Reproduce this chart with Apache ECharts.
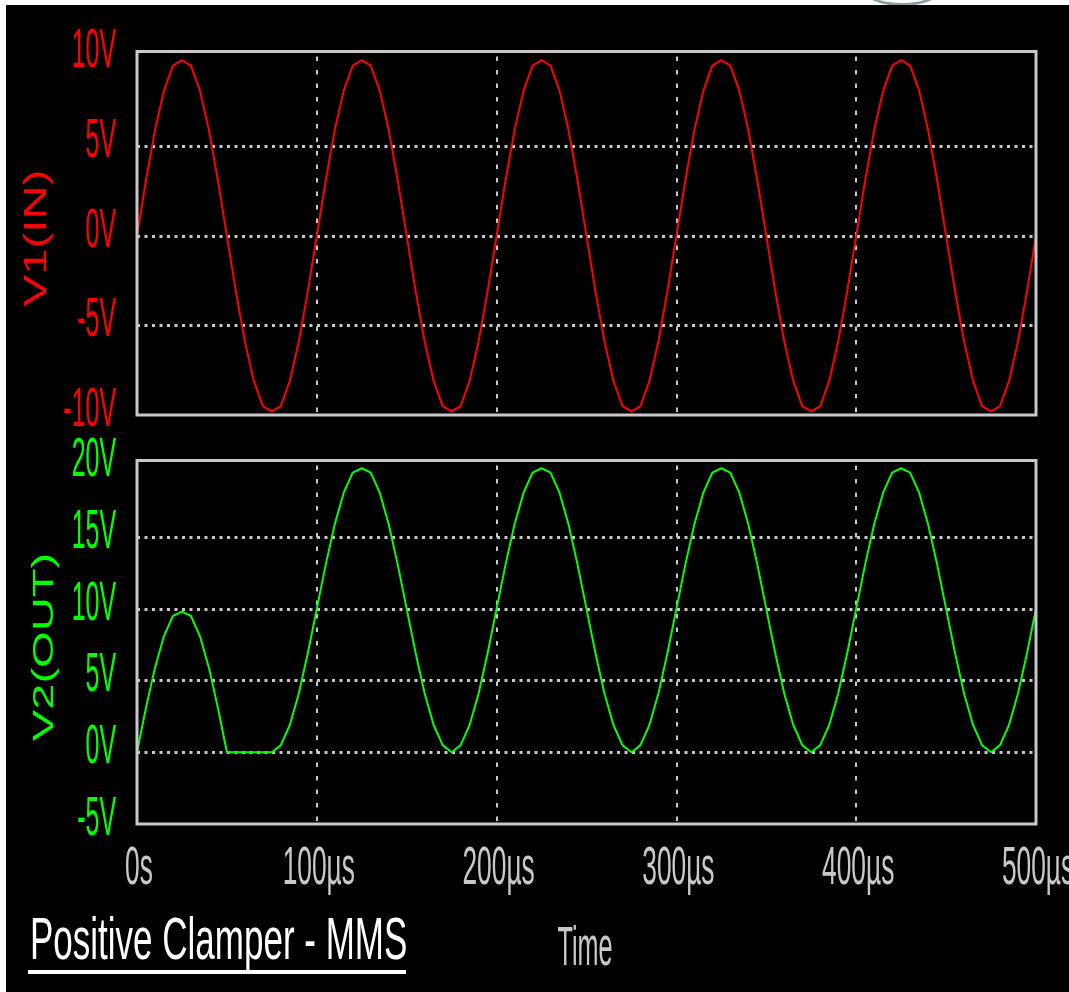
<!DOCTYPE html>
<html><head><meta charset="utf-8">
<script src="https://cdn.jsdelivr.net/npm/echarts@6/dist/echarts.min.js"></script>
<style>
html,body{margin:0;padding:0;background:#fff;width:1069px;height:992px;overflow:hidden}
#arc{position:absolute;left:864px;top:-26px;width:76px;height:32px;border:3px solid #8aa0a0;border-radius:50%;box-sizing:border-box}
#bg{position:absolute;left:6px;top:5px;width:1063px;height:987px;background:#000}
#main{position:absolute;left:0;top:0;width:1069px;height:992px}
</style></head><body><div id="arc"></div><div id="bg"></div><div id="main"></div>
<script>
const timeUs = [0,5,10,15,20,25,30,35,40,45,50,55,60,65,70,75,80,85,90,95,
  100,105,110,115,120,125,130,135,140,145,150,155,160,165,170,175,180,185,190,195,
  200,205,210,215,220,225,230,235,240,245,250,255,260,265,270,275,280,285,290,295,
  300,305,310,315,320,325,330,335,340,345,350,355,360,365,370,375,380,385,390,395,
  400,405,410,415,420,425,430,435,440,445,450,455,460,465,470,475,480,485,490,495,500];
const v1In = [0,3.1,5.9,8.1,9.5,9.8,9.5,8.1,5.9,3.1,0,-3.1,-5.9,-8.1,-9.5,-9.8,-9.5,-8.1,-5.9,-3.1,
  0,3.1,5.9,8.1,9.5,9.8,9.5,8.1,5.9,3.1,0,-3.1,-5.9,-8.1,-9.5,-9.8,-9.5,-8.1,-5.9,-3.1,
  0,3.1,5.9,8.1,9.5,9.8,9.5,8.1,5.9,3.1,0,-3.1,-5.9,-8.1,-9.5,-9.8,-9.5,-8.1,-5.9,-3.1,
  0,3.1,5.9,8.1,9.5,9.8,9.5,8.1,5.9,3.1,0,-3.1,-5.9,-8.1,-9.5,-9.8,-9.5,-8.1,-5.9,-3.1,
  0,3.1,5.9,8.1,9.5,9.8,9.5,8.1,5.9,3.1,0,-3.1,-5.9,-8.1,-9.5,-9.8,-9.5,-8.1,-5.9,-3.1,0];
const v2Out = [0,3.1,5.9,8.1,9.5,9.8,9.5,8.1,5.9,3.1,
  0,0,0,0,0,0,
  0.5,1.9,4.1,6.9,10.0,13.1,15.9,18.1,19.5,19.8,19.5,18.1,15.9,13.1,10.0,6.9,4.1,1.9,0.5,
  0,
  0.5,1.9,4.1,6.9,10.0,13.1,15.9,18.1,19.5,19.8,19.5,18.1,15.9,13.1,10.0,6.9,4.1,1.9,0.5,
  0,
  0.5,1.9,4.1,6.9,10.0,13.1,15.9,18.1,19.5,19.8,19.5,18.1,15.9,13.1,10.0,6.9,4.1,1.9,0.5,
  0,
  0.5,1.9,4.1,6.9,10.0,13.1,15.9,18.1,19.5,19.8,19.5,18.1,15.9,13.1,10.0,6.9,4.1,1.9,0.5,
  0,
  0.5,1.9,4.1,6.9,10.0];
const xTickValues = [0,100,200,300,400,500];
const xTickLabels = ['0s','100µs','200µs','300µs','400µs','500µs'];
const y1TickValues = [-10,-5,0,5,10];
const y1TickLabels = ['-10V','-5V','0V','5V','10V'];
const y2TickValues = [-5,0,5,10,15,20];
const y2TickLabels = ['-5V','0V','5V','10V','15V','20V'];
const titleText = 'Positive Clamper - MMS';
const xName = 'Time';
const y1Name = 'V1(IN)';
const y2Name = 'V2(OUT)';

const GRID = '#c8c8c8';
const chart = echarts.init(document.getElementById('main'), null, {renderer:'canvas'});
function xAx(i){return {type:'value',gridIndex:i,min:0,max:500,interval:100,
  axisLine:{show:false},axisTick:{show:false},axisLabel:{show:false},
  splitLine:{show:true,showMinLine:false,showMaxLine:false,lineStyle:{color:GRID,width:2,type:[4.5,9]}}};}
function yAx(i,min,max){return {type:'value',gridIndex:i,min:min,max:max,interval:5,
  axisLine:{show:false},axisTick:{show:false},axisLabel:{show:false},
  splitLine:{show:true,showMinLine:false,showMaxLine:false,lineStyle:{color:GRID,width:3,type:[3,4.5]}}};}
chart.setOption({
  backgroundColor:'transparent',
  animation:false,
  grid:[{left:137,right:33,top:56.6,height:358.4},{left:137,right:33,top:465.4,height:358.6}],
  xAxis:[xAx(0),xAx(1)],
  yAxis:[yAx(0,-10,10),yAx(1,-5,20)],
  series:[
    {type:'line',xAxisIndex:0,yAxisIndex:0,data:timeUs.map((t,i)=>[t,v1In[i]]),
     showSymbol:false,symbol:'none',lineStyle:{color:'#ff0000',width:2},itemStyle:{color:'#ff0000'}},
    {type:'line',xAxisIndex:1,yAxisIndex:1,data:timeUs.map((t,i)=>[t,v2Out[i]]),
     showSymbol:false,symbol:'none',lineStyle:{color:'#00ff00',width:2},itemStyle:{color:'#00ff00'}}
  ]
});

function txt(text,x,y,opt){
  return {type:'text',x:x,y:y,scaleX:opt.sx||1,scaleY:opt.sy||1,rotation:opt.rot||0,z:100,silent:true,
    style:{text:text,fill:opt.color,font:(opt.weight||'normal')+' '+opt.size+'px "Liberation Sans", Arial, sans-serif',
      align:opt.align||'center',verticalAlign:'middle',textAlign:opt.align||'center',textVerticalAlign:'middle'}};
}
const g = [];
g.push({type:'rect',z:100,silent:true,shape:{x:137,y:51.5,width:899,height:363.5},style:{fill:'none',stroke:GRID,lineWidth:3}});
g.push({type:'rect',z:100,silent:true,shape:{x:137,y:460.5,width:899,height:363.5},style:{fill:'none',stroke:GRID,lineWidth:3}});
y1TickValues.forEach((v,i)=>{
  const py = chart.convertToPixel({yAxisIndex:0},v);
  g.push(txt(y1TickLabels[i],116,py-4.5,{color:'#ff0000',size:28,sx:0.89,sy:1.98,align:'right'}));
});
y2TickValues.forEach((v,i)=>{
  const py = chart.convertToPixel({yAxisIndex:1},v);
  g.push(txt(y2TickLabels[i],116,py-4.5,{color:'#00ff00',size:28,sx:0.89,sy:1.98,align:'right'}));
});
xTickValues.forEach((v,i)=>{
  const px = chart.convertToPixel({xAxisIndex:1},v);
  g.push(txt(xTickLabels[i],px+2,869,{color:GRID,size:28,sx:0.94,sy:1.93}));
});
g.push(txt(y1Name,37,238,{color:'#ff0000',size:32,sx:1.48,sy:1.0,rot:Math.PI/2}));
g.push(txt(y2Name,44.5,647,{color:'#00ff00',size:30,sx:1.57,sy:1.0,rot:Math.PI/2}));
g.push(txt(titleText,30,943,{color:'#ffffff',size:35,sx:1.0,sy:1.7,align:'left'}));
g.push({type:'rect',z:100,silent:true,shape:{x:28,y:970,width:378,height:4},style:{fill:'#ffffff'}});
g.push(txt(xName,585,950,{color:GRID,size:26,sx:0.97,sy:2.14}));
chart.setOption({graphic:g});
</script></body></html>
